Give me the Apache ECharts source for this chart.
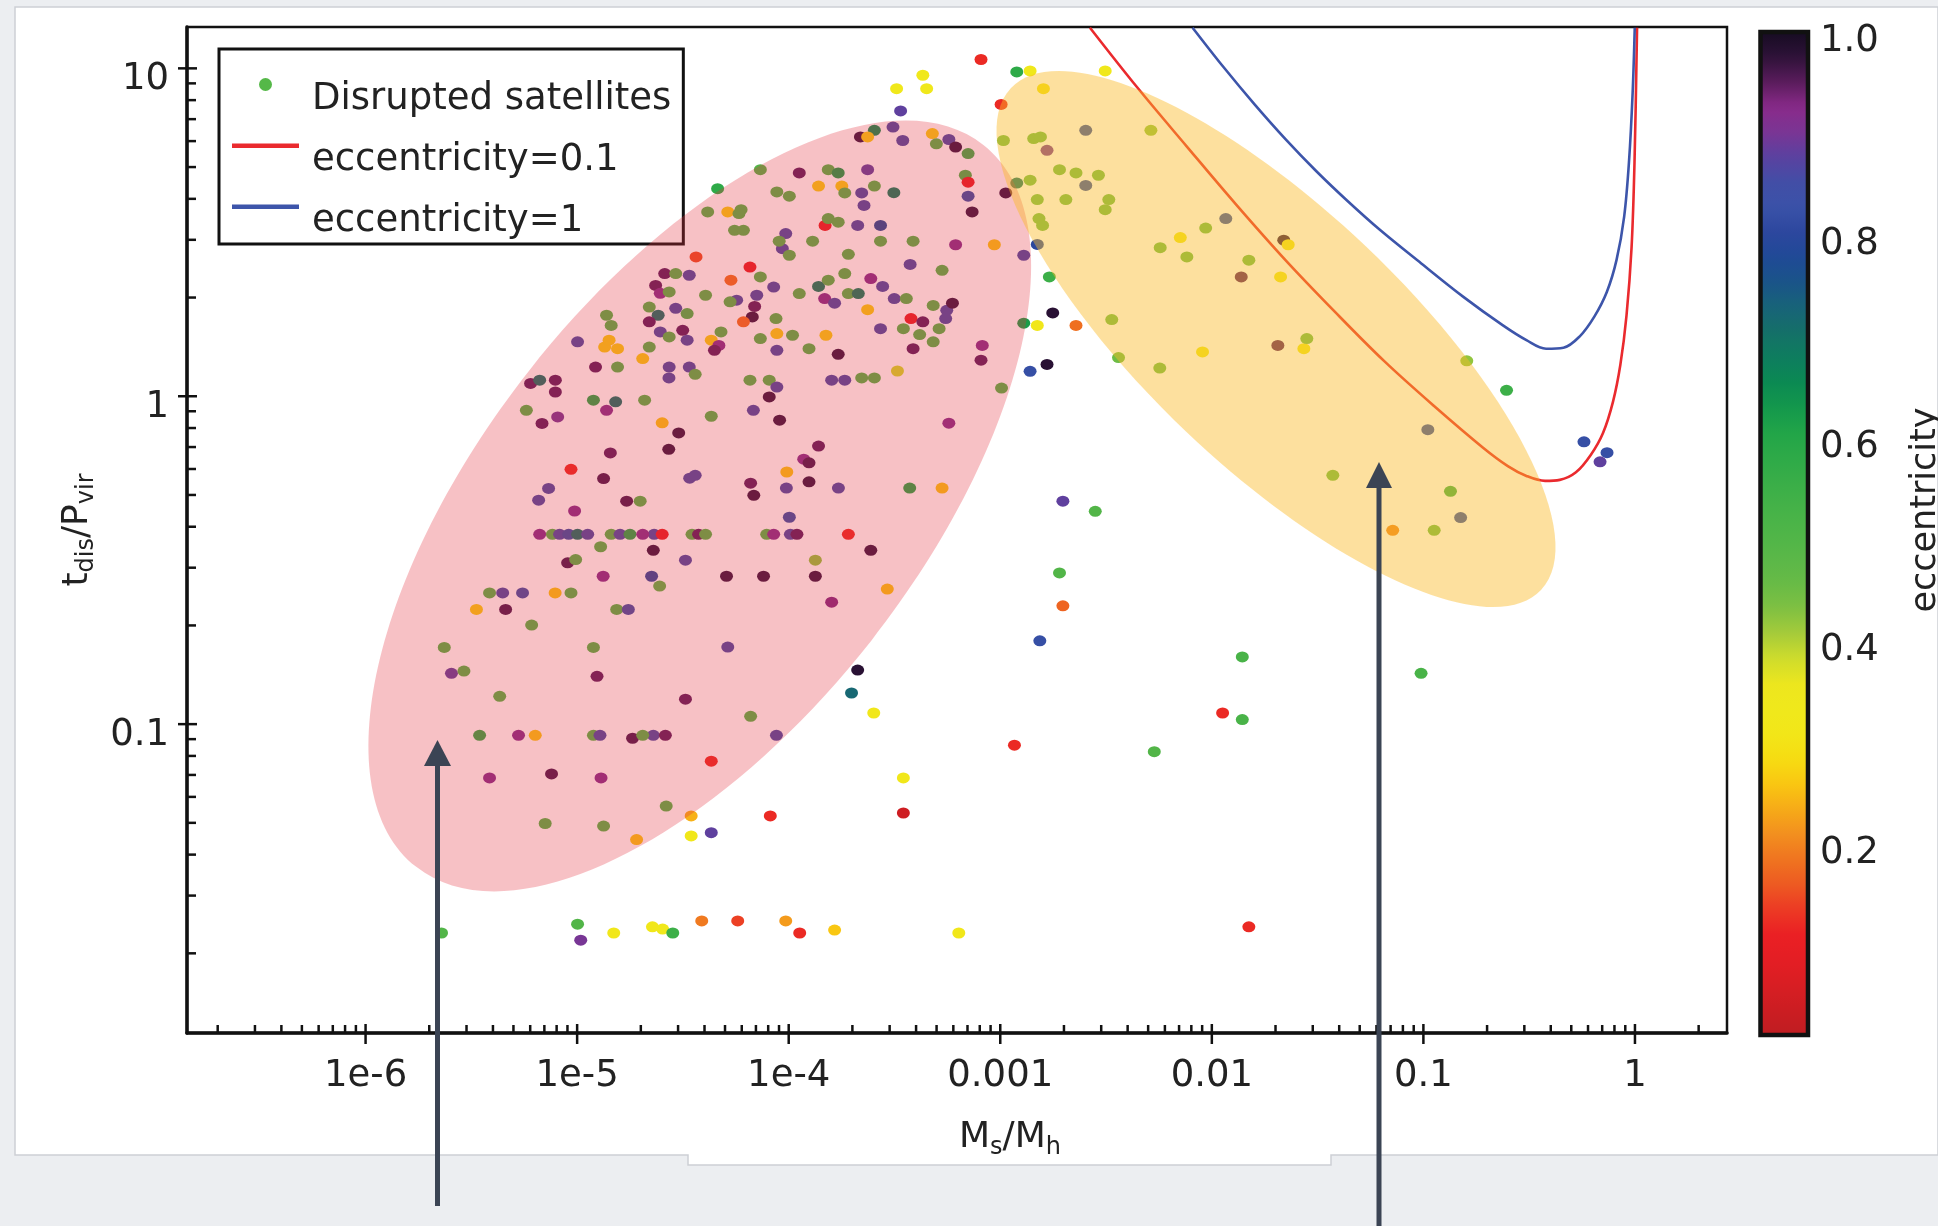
<!DOCTYPE html>
<html><head><meta charset="utf-8">
<script src="https://cdn.jsdelivr.net/npm/echarts@6/dist/echarts.min.js"></script>
<style>html,body{margin:0;padding:0;background:#eceef1;}#c{width:1938px;height:1226px;}</style>
</head><body><div id="c"></div>
<script>
// ---------- DATA (stored as log10) ----------
// each point: [log10(Ms/Mh), log10(t_dis/P_vir), eccentricity]
const satellitesPinkGroup = [
[-4.579,-1.250,0.5],[-4.461,-1.280,0.24],[-4.366,-1.113,0.12],[-5.151,-1.303,0.5],[-4.875,-1.311,0.5],[-4.719,-1.352,0.26],
[-3.243,-0.082,0.92],[-4.598,-0.081,0.26],[-4.520,-0.112,0.97],[-4.567,-0.162,0.97],[-4.366,-0.061,0.5],[-4.167,-0.043,0.86],
[-4.043,-0.073,0.97],[-3.859,-0.152,0.95],[-3.929,-0.192,0.92],[-3.904,-0.203,0.96],[-4.009,-0.231,0.26],[-4.468,-0.250,0.86],
[-4.442,-0.241,0.86],[-4.180,-0.265,0.95],[-4.165,-0.302,0.97],[-4.011,-0.280,0.86],[-3.904,-0.261,0.97],[-3.765,-0.280,0.86],
[-3.428,-0.280,0.6],[-3.275,-0.280,0.26],[-3.997,-0.369,0.82],
[-4.636,-0.421,0.86],[-4.598,-0.421,0.1],[-4.457,-0.421,0.5],[-4.426,-0.421,0.95],[-4.393,-0.421,0.5],[-4.104,-0.421,0.5],
[-4.071,-0.421,0.92],[-3.992,-0.421,0.86],[-3.961,-0.421,0.95],[-3.718,-0.421,0.12],
[-4.640,-0.470,0.97],[-3.612,-0.470,0.97],[-4.488,-0.500,0.86],[-3.874,-0.500,0.42],[-4.648,-0.549,0.8],[-4.610,-0.579,0.48],
[-4.294,-0.549,0.97],[-4.119,-0.549,0.97],[-3.874,-0.549,0.97],[-3.534,-0.588,0.26],[-3.797,-0.628,0.93],[-4.288,-0.765,0.86],
[-4.488,-0.924,0.95],[-4.180,-0.976,0.5],[-4.640,-1.034,0.86],[-4.583,-1.034,0.95],[-4.058,-1.034,0.86],
[-5.240,-0.043,0.5],[-5.166,-0.083,0.95],[-5.092,-0.063,0.9],[-4.861,-0.043,0.92],[-4.818,-0.017,0.7],[-4.681,-0.012,0.5],
[-4.843,-0.173,0.95],[-5.029,-0.223,0.12],[-4.875,-0.251,0.96],[-5.135,-0.281,0.86],[-5.182,-0.317,0.86],[-4.766,-0.320,0.96],
[-4.702,-0.320,0.5],[-5.012,-0.350,0.92],
[-5.177,-0.421,0.92],[-5.117,-0.421,0.5],[-5.083,-0.421,0.86],[-5.040,-0.421,0.82],[-4.998,-0.421,0.7],[-4.950,-0.421,0.86],
[-4.839,-0.421,0.5],[-4.797,-0.421,0.86],[-4.750,-0.421,0.6],[-4.690,-0.421,0.92],
[-4.889,-0.459,0.5],[-5.045,-0.508,0.96],[-5.007,-0.498,0.5],[-4.877,-0.549,0.92],
[-5.414,-0.600,0.5],[-5.352,-0.600,0.86],[-5.258,-0.600,0.84],[-5.104,-0.600,0.26],[-5.029,-0.600,0.5],
[-5.476,-0.650,0.27],[-5.338,-0.650,0.96],[-4.813,-0.650,0.5],[-4.758,-0.650,0.85],
[-5.215,-0.698,0.5],[-5.628,-0.766,0.5],[-4.923,-0.766,0.5],[-5.594,-0.845,0.88],[-5.535,-0.838,0.5],[-4.906,-0.854,0.95],
[-5.366,-0.915,0.5],
[-5.461,-1.034,0.58],[-5.277,-1.034,0.92],[-5.198,-1.034,0.26],[-4.923,-1.034,0.5],[-4.892,-1.034,0.86],[-4.738,-1.043,0.96],[-4.690,-1.034,0.5],
[-5.414,-1.164,0.92],[-5.121,-1.152,0.96],[-4.887,-1.164,0.92],
[-4.438,0.425,0.15],[-4.586,0.374,0.95],[-4.534,0.374,0.5],[-4.470,0.369,0.86],[-4.629,0.338,0.95],[-4.607,0.314,0.92],
[-4.565,0.318,0.5],[-4.659,0.272,0.5],[-4.617,0.247,0.7],[-4.534,0.268,0.86],[-4.480,0.252,0.52],[-4.861,0.247,0.5],
[-4.839,0.216,0.5],[-4.659,0.227,0.95],[-4.607,0.196,0.86],[-4.565,0.181,0.5],[-4.501,0.201,0.95],[-4.480,0.171,0.86],
[-4.659,0.150,0.5],[-4.998,0.166,0.86],[-4.913,0.089,0.95],[-4.870,0.150,0.27],[-4.849,0.171,0.27],[-4.809,0.145,0.27],
[-4.809,0.089,0.5],[-4.690,0.115,0.27],[-4.565,0.089,0.86],[-4.470,0.089,0.86],[-5.220,0.039,0.95],[-5.177,0.049,0.7],
[-5.103,0.049,0.95],[-5.103,0.013,0.95],[-4.923,-0.012,0.6],
[-3.507,0.821,0.86],[-3.595,0.811,0.65],[-3.661,0.791,0.97],[-3.627,0.791,0.27],[-3.461,0.780,0.86],[-3.321,0.801,0.27],
[-3.302,0.770,0.5],[-3.243,0.783,0.86],[-3.211,0.760,0.97],[-3.152,0.740,0.55],[-2.994,0.025,0.5],
[-4.336,0.633,0.58],[-4.134,0.691,0.5],[-3.950,0.681,0.95],[-3.813,0.691,0.5],[-3.766,0.681,0.62],[-3.627,0.691,0.88],
[-3.859,0.641,0.27],[-3.749,0.641,0.27],[-4.056,0.623,0.5],[-3.997,0.610,0.5],[-3.735,0.620,0.5],[-3.655,0.620,0.86],
[-3.595,0.641,0.5],[-3.644,0.582,0.86],[-3.503,0.621,0.68],[-3.165,0.674,0.52],[-3.152,0.653,0.1],[-3.152,0.610,0.82],
[-3.133,0.562,0.97],[-4.383,0.562,0.5],[-4.288,0.562,0.27],[-4.235,0.557,0.5],[-4.225,0.569,0.5],[-4.256,0.506,0.5],
[-4.214,0.506,0.5],[-3.828,0.521,0.1],[-3.813,0.542,0.5],[-3.766,0.531,0.5],[-3.674,0.521,0.86],[-3.566,0.521,0.78],
[-4.014,0.496,0.86],[-4.030,0.450,0.86],[-4.045,0.473,0.5],[-3.997,0.430,0.5],[-3.887,0.473,0.5],[-3.566,0.473,0.5],
[-3.412,0.473,0.5],[-3.211,0.462,0.92],[-3.028,0.462,0.26],[-3.718,0.433,0.5],[-3.426,0.402,0.86],[-3.275,0.384,0.5],
[-4.183,0.394,0.1],[-4.273,0.354,0.18],[-4.134,0.364,0.5],[-4.071,0.333,0.86],[-4.151,0.308,0.86],[-4.161,0.274,0.95],
[-4.172,0.242,0.97],[-4.246,0.293,0.86],[-4.277,0.288,0.5],[-4.393,0.308,0.5],[-3.950,0.313,0.5],[-3.859,0.335,0.68],
[-3.813,0.354,0.5],[-3.735,0.374,0.5],[-3.612,0.359,0.92],[-3.556,0.335,0.86],[-3.830,0.298,0.92],[-3.783,0.284,0.86],
[-3.718,0.313,0.5],[-3.671,0.313,0.68],[-3.501,0.298,0.86],[-3.444,0.298,0.5],[-3.627,0.264,0.27],[-3.317,0.277,0.5],
[-3.253,0.262,0.86],[-3.226,0.284,0.97],[-3.422,0.237,0.1],[-3.366,0.227,0.95],[-3.258,0.237,0.86],[-3.458,0.206,0.5],
[-3.381,0.188,0.5],[-3.317,0.166,0.5],[-3.289,0.206,0.5],[-3.566,0.206,0.86],[-4.060,0.237,0.5],[-4.214,0.227,0.18],
[-4.320,0.196,0.5],[-4.366,0.171,0.27],[-4.330,0.155,0.92],[-4.351,0.140,0.95],[-4.134,0.176,0.5],[-4.056,0.191,0.27],
[-3.982,0.186,0.5],[-3.824,0.186,0.27],[-4.056,0.140,0.86],[-3.904,0.145,0.5],[-3.766,0.128,0.97],[-3.412,0.145,0.95],
[-3.085,0.155,0.92],[-3.091,0.110,0.95],[-4.442,0.067,0.5],[-4.566,0.056,0.86],[-4.183,0.049,0.5],[-4.092,0.049,0.5],
[-4.056,0.028,0.86],[-4.092,-0.002,0.97],[-3.797,0.049,0.86],[-3.735,0.049,0.86],[-3.655,0.056,0.5],[-3.595,0.056,0.5],
[-3.486,0.077,0.38]
];
const satellitesYellowGroup = [
[-2.796,0.938,0.3],[-2.985,0.780,0.45],[-2.842,0.786,0.45],[-2.810,0.791,0.45],[-2.779,0.750,0.9],[-2.596,0.811,0.82],
[-2.288,0.811,0.42],[-2.720,0.691,0.45],[-2.642,0.681,0.45],[-2.536,0.674,0.45],[-2.596,0.643,0.82],[-2.859,0.659,0.45],
[-2.922,0.650,0.7],[-2.974,0.620,0.97],[-2.825,0.600,0.45],[-2.690,0.600,0.45],[-2.487,0.600,0.45],[-2.504,0.569,0.45],
[-2.817,0.542,0.45],[-2.800,0.521,0.45],[-2.825,0.463,0.8],[-1.934,0.542,0.82],[-2.029,0.513,0.45],[-2.149,0.484,0.32],
[-2.244,0.453,0.45],[-2.118,0.425,0.45],[-1.660,0.476,0.97],[-1.639,0.462,0.32],[-1.825,0.415,0.45],[-1.861,0.364,0.95],
[-1.675,0.364,0.32],[-2.473,0.234,0.45],[-2.441,0.118,0.45],[-2.246,0.086,0.45],[-2.044,0.135,0.32],[-1.688,0.155,0.95],
[-1.565,0.145,0.32],[-1.551,0.176,0.45],[-1.428,-0.241,0.45],[-0.795,0.108,0.42],[-0.979,-0.102,0.82],[-0.872,-0.290,0.55],
[-0.824,-0.370,0.82],[-1.145,-0.409,0.2],[-0.949,-0.409,0.45]
];
const satellitesScattered = [
[-5.641,-1.637,0.5],[-4.998,-1.610,0.5],[-4.983,-1.659,0.9],[-4.827,-1.637,0.32],[-4.644,-1.618,0.32],[-4.596,-1.625,0.33],
[-4.548,-1.637,0.55],[-4.411,-1.600,0.19],[-4.241,-1.600,0.14],[-4.014,-1.600,0.22],[-3.948,-1.637,0.12],[-3.783,-1.628,0.26],
[-3.196,-1.637,0.32],[-1.825,-1.618,0.12],[-4.461,-1.341,0.32],[-4.366,-1.331,0.88],[-4.087,-1.280,0.12],[-3.458,-1.271,0.04],
[-3.458,-1.164,0.32],[-2.704,-0.320,0.88],[-2.551,-0.351,0.5],[-2.720,-0.539,0.5],[-2.704,-0.639,0.17],[-2.813,-0.746,0.82],
[-1.856,-0.795,0.52],[-3.674,-0.835,0.98],[-3.703,-0.905,0.72],[-3.598,-0.966,0.32],[-1.949,-0.966,0.12],[-1.856,-0.986,0.52],
[-2.933,-1.064,0.12],[-2.272,-1.084,0.5],[-3.091,1.027,0.12],[-2.922,0.989,0.58],[-2.859,0.992,0.33],[-2.504,0.992,0.33],
[-3.366,0.979,0.33],[-3.348,0.938,0.33],[-3.490,0.938,0.33],[-2.996,0.890,0.12],[-3.471,0.870,0.88],[-2.889,0.430,0.86],
[-2.768,0.364,0.55],[-2.752,0.254,0.98],[-2.642,0.216,0.18],[-2.889,0.223,0.62],[-2.825,0.216,0.32],[-2.779,0.097,0.98],
[-2.859,0.076,0.82],[-0.607,0.018,0.55],[-0.241,-0.139,0.82],[-0.132,-0.172,0.82],[-0.165,-0.200,0.88],[-1.011,-0.845,0.52]
];
// curves: [log10(Ms/Mh), log10(t_dis/P_vir)]
const curveEcc01 = [
[-2.576,1.124],[-2.354,0.943],[-2.120,0.763],[-1.887,0.586],[-1.653,0.416],[-1.419,0.258],[-1.185,0.107],[-0.951,-0.029],
[-0.718,-0.157],[-0.601,-0.213],[-0.513,-0.243],[-0.425,-0.258],[-0.355,-0.255],[-0.279,-0.232],[-0.209,-0.179],[-0.151,-0.112],
[-0.104,-0.017],[-0.069,0.096],[-0.040,0.246],[-0.016,0.454],[-0.002,0.717],[0.010,1.124]
];
const curveEcc1 = [
[-2.091,1.124],[-1.945,1.004],[-1.799,0.891],[-1.653,0.785],[-1.507,0.687],[-1.361,0.597],[-1.203,0.506],[-1.010,0.405],
[-0.811,0.303],[-0.624,0.216],[-0.513,0.171],[-0.420,0.145],[-0.338,0.148],[-0.262,0.182],[-0.192,0.243],[-0.133,0.318],
[-0.087,0.416],[-0.051,0.548],[-0.028,0.717],[-0.011,0.925],[-0.001,1.124]
];
// axis ticks / labels
const xTickExponents = [-6,-5,-4,-3,-2,-1,0];
const xTickLabels = ['1e-6','1e-5','1e-4','0.001','0.01','0.1','1'];
const yTickExponents = [-1,0,1];
const yTickLabels = ['0.1','1','10'];
const xMajorTicks = [1e-6,1e-5,1e-4,1e-3,1e-2,1e-1,1];
const xMinorTicks = [2e-7,3e-7,4e-7,5e-7,6e-7,7e-7,8e-7,9e-7,
 2e-6,3e-6,4e-6,5e-6,6e-6,7e-6,8e-6,9e-6, 2e-5,3e-5,4e-5,5e-5,6e-5,7e-5,8e-5,9e-5,
 2e-4,3e-4,4e-4,5e-4,6e-4,7e-4,8e-4,9e-4, 0.002,0.003,0.004,0.005,0.006,0.007,0.008,0.009,
 0.02,0.03,0.04,0.05,0.06,0.07,0.08,0.09, 0.2,0.3,0.4,0.5,0.6,0.7,0.8,0.9, 2];
const yMajorTicks = [0.1,1,10];
const yMinorTicks = [0.02,0.03,0.04,0.05,0.06,0.07,0.08,0.09,0.2,0.3,0.4,0.5,0.6,0.7,0.8,0.9,2,3,4,5,6,7,8,9];
const X_MIN = 1.432e-7, X_MAX = 2.723, Y_MIN = 0.01143, Y_MAX = 13.37;
const ECC_MIN = 0.012, ECC_MAX = 1.0;
const ECC_COLORS = ['#bf1d22','#cc1d22','#d81e23','#e41e24','#ea2024','#ec3a24','#ed5a22','#ef7420','#f28f1f','#f6ab18',
 '#f9c612','#f6dc12','#f2e618','#f0e81c','#ece61e','#cfdc2c','#a6cb3a','#7fc042','#68bb46','#5ab748','#4fb548','#45b248',
 '#3aae48','#2eaa48','#22a548','#14984c','#0b8a52','#0e7e5e','#147068','#186478','#1a5488','#1f4a96','#2c479e','#3a52a8',
 '#424ea6','#5a42a0','#7a3594','#8a2a8a','#5a1c5c','#2e1238','#160c22'];

// ---------- CHART ----------
const FONT = 'DejaVu Sans';
const TXT = '#222';
const RED = '#ea2a2e', BLUE = '#3d55aa';
const LINE_ICON = 'path://M0,4.5H67V9H0Z M0,0H0.01V0.01H0Z M66.99,12.99H67V13H66.99Z';
const pw = v => Math.pow(10, v);
const allSat = satellitesPinkGroup.concat(satellitesYellowGroup, satellitesScattered)
  .map(p => [pw(p[0]), pw(p[1]), p[2]]);
const tickData = []
  .concat(xMinorTicks.map(v => [v, Y_MIN, 0]))
  .concat(xMajorTicks.map(v => [v, Y_MIN, 1]))
  .concat(yMinorTicks.map(v => [X_MIN, v, 2]))
  .concat(yMajorTicks.map(v => [X_MIN, v, 3]));

function decadeLabel(v, exps, labels) {
  const e = Math.log10(v), r = Math.round(e);
  if (Math.abs(e - r) > 1e-6) return '';
  const i = exps.indexOf(r);
  return i < 0 ? '' : labels[i];
}

const chart = echarts.init(document.getElementById('c'), null, {renderer: 'canvas'});
chart.setOption({
  animation: false,
  backgroundColor: '#eceef1',
  grid: [
    {left: 187, right: 211, top: 27, bottom: 193, show: true, borderColor: '#111', borderWidth: 2.5, outerBoundsMode: 'none'},
    {left: 1760, width: 48, top: 32, height: 812, show: false, outerBoundsMode: 'none'}
  ],
  xAxis: [
    {type: 'log', gridIndex: 0, min: X_MIN, max: X_MAX, logBase: 10,
     axisLine: {show: true, lineStyle: {color: '#111', width: 3.5}},
     axisTick: {show: false}, splitLine: {show: false}, minorTick: {show: false},
     axisLabel: {fontFamily: FONT, fontSize: 37, color: TXT, margin: 25,
       formatter: v => decadeLabel(v, xTickExponents, xTickLabels)},
     name: '{m|M}{s|s}{m|/M}{s|h}', nameLocation: 'middle', nameGap: 83,
     nameTextStyle: {padding: [0, 0, 0, 106], rich: {
       m: {fontFamily: FONT, fontSize: 36, color: TXT, lineHeight: 44},
       s: {fontFamily: FONT, fontSize: 24, color: TXT, lineHeight: 24, verticalAlign: 'bottom'}}}
    },
    {type: 'value', gridIndex: 1, show: false, min: 0, max: 1}
  ],
  yAxis: [
    {type: 'log', gridIndex: 0, min: Y_MIN, max: Y_MAX, logBase: 10,
     axisLine: {show: true, lineStyle: {color: '#111', width: 3.5}},
     axisTick: {show: false}, splitLine: {show: false}, minorTick: {show: false},
     axisLabel: {fontFamily: FONT, fontSize: 37, color: TXT, margin: 18, verticalAlign: 'top', lineHeight: 22,
       formatter: v => decadeLabel(v, yTickExponents, yTickLabels)},
     name: '{m|t}{s|dis}{m|/P}{s|vir}', nameLocation: 'middle', nameGap: 80,
     nameTextStyle: {rich: {
       m: {fontFamily: FONT, fontSize: 36, color: TXT, lineHeight: 44},
       s: {fontFamily: FONT, fontSize: 24, color: TXT, lineHeight: 24, verticalAlign: 'bottom'}}}
    },
    {type: 'value', gridIndex: 1, position: 'right', min: 0.2, max: 1.0, interval: 0.2,
     axisLine: {show: false}, splitLine: {show: false},
     axisTick: {show: true, length: 7, lineStyle: {color: '#111', width: 2.5}},
     axisLabel: {fontFamily: FONT, fontSize: 37, color: TXT, margin: 12, verticalAlign: 'top', lineHeight: 18,
       formatter: v => v.toFixed(1)},
     name: 'eccentricity', nameLocation: 'middle', nameGap: 100,
     nameTextStyle: {fontFamily: FONT, fontSize: 35, color: TXT, padding: [0, 144, 0, 0]}
    }
  ],
  visualMap: {
    type: 'continuous', seriesIndex: 0, dimension: 2, min: ECC_MIN, max: ECC_MAX,
    calculable: false, orient: 'vertical', left: 1760, top: 32, itemWidth: 47, itemHeight: 1003,
    padding: 0, text: null, inRange: {color: ECC_COLORS}, hoverLink: false
  },
  legend: {
    orient: 'vertical', left: 219, top: 49, itemWidth: 67, itemHeight: 13, itemGap: -6,
    padding: [2, 12, 4, 13], borderColor: '#111', borderWidth: 3, backgroundColor: '#fff',
    selectedMode: false, formatter: '\n{name}',
    textStyle: {fontFamily: FONT, fontSize: 37, color: TXT, lineHeight: 30, padding: [0, 0, 0, 8]},
    data: [
      {name: 'Disrupted satellites', icon: 'circle', itemStyle: {color: '#55b848', borderWidth: 0}},
      {name: 'eccentricity=0.1', icon: LINE_ICON, itemStyle: {color: RED, borderWidth: 0}},
      {name: 'eccentricity=1', icon: LINE_ICON, itemStyle: {color: BLUE, borderWidth: 0}}
    ]
  },
  series: [
    {name: 'Disrupted satellites', type: 'scatter', xAxisIndex: 0, yAxisIndex: 0,
     symbol: 'circle', symbolSize: [13, 11], data: allSat, itemStyle: {color: '#55b848', opacity: 1}, z: 3, silent: true},
    {name: 'eccentricity=0.1', type: 'line', xAxisIndex: 0, yAxisIndex: 0, symbol: 'none', smooth: 0.35,
     data: curveEcc01.map(p => [pw(p[0]), pw(p[1])]), lineStyle: {color: RED, width: 2.6}, itemStyle: {color: RED}, z: 4, silent: true},
    {name: 'eccentricity=1', type: 'line', xAxisIndex: 0, yAxisIndex: 0, symbol: 'none', smooth: 0.35,
     data: curveEcc1.map(p => [pw(p[0]), pw(p[1])]), lineStyle: {color: BLUE, width: 2.6}, itemStyle: {color: BLUE}, z: 4, silent: true},
    {name: 'ticks', type: 'custom', xAxisIndex: 0, yAxisIndex: 0, data: tickData, clip: false, silent: true, z: 5,
     renderItem: function (params, api) {
       const p = api.coord([api.value(0), api.value(1)]);
       const k = api.value(2);
       let s;
       if (k === 0) s = {x1: p[0], y1: p[1], x2: p[0], y2: p[1] - 8};
       else if (k === 1) s = {x1: p[0], y1: p[1] + 11, x2: p[0], y2: p[1] - 9};
       else if (k === 2) s = {x1: p[0], y1: p[1], x2: p[0] + 9, y2: p[1]};
       else s = {x1: p[0] - 9, y1: p[1], x2: p[0] + 10, y2: p[1]};
       return {type: 'line', shape: s, style: {stroke: '#111', lineWidth: 2.5}};
     }}
  ],
  graphic: {elements: [
    {type: 'polygon', z: -50, silent: true,
     shape: {points: [[15,7],[1938,7],[1938,1155],[1331,1155],[1331,1165],[688,1165],[688,1155],[15,1155]]},
     style: {fill: '#ffffff', stroke: '#cdd0d5', lineWidth: 1.5}},
    {type: 'ellipse', z: 100, silent: true, x: 700, y: 506, rotation: 51.87 * Math.PI / 180,
     shape: {cx: 0, cy: 0, rx: 459, ry: 218}, style: {fill: 'rgba(228,50,62,0.3)'}},
    {type: 'ellipse', z: 100, silent: true, x: 1276, y: 339, rotation: -43.45 * Math.PI / 180,
     shape: {cx: 0, cy: 0, rx: 365, ry: 129}, style: {fill: 'rgba(250,186,40,0.45)'}},
    {type: 'line', z: 110, silent: true, shape: {x1: 437.5, y1: 1206, x2: 437.5, y2: 762}, style: {stroke: '#3b4454', lineWidth: 5}},
    {type: 'polygon', z: 110, silent: true, shape: {points: [[437.5,740],[424,766],[451,766]]}, style: {fill: '#3b4454'}},
    {type: 'line', z: 110, silent: true, shape: {x1: 1379, y1: 1226, x2: 1379, y2: 484}, style: {stroke: '#3b4454', lineWidth: 5}},
    {type: 'polygon', z: 110, silent: true, shape: {points: [[1379,462],[1366,488],[1392,488]]}, style: {fill: '#3b4454'}},
    {type: 'rect', z: 100, silent: true, shape: {x: 1760.5, y: 32, width: 47.5, height: 1003},
     style: {fill: 'none', stroke: '#111', lineWidth: 4.5}}
  ]}
});
</script></body></html>
